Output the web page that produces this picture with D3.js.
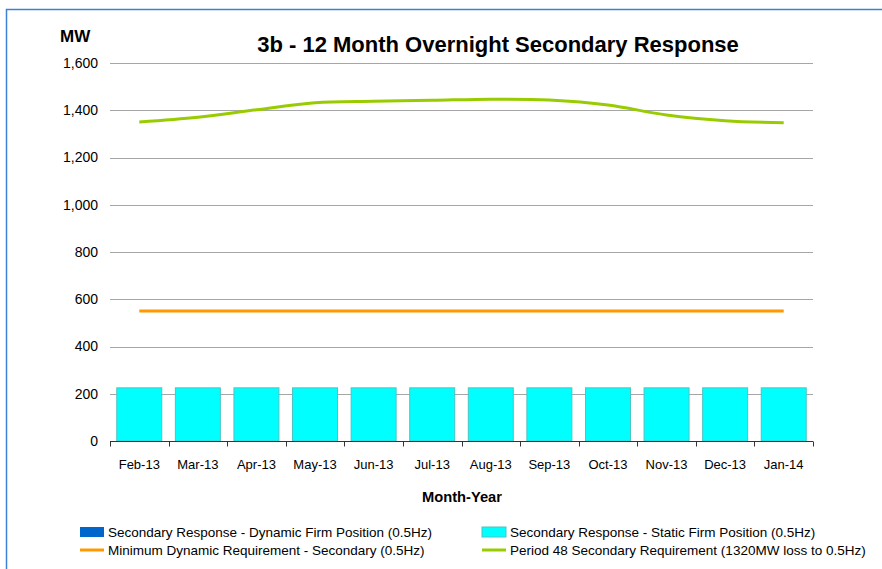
<!DOCTYPE html>
<html>
<head>
<meta charset="utf-8">
<script src="https://cdn.jsdelivr.net/npm/d3@7"></script>
<style>
  body { margin: 0; background: #fff; }
  svg { display: block; font-family: "Liberation Sans", Arial, sans-serif; }
  .axis text { font-size: 13px; fill: #000; }
  .axis--y text { font-size: 14px; }
  .grid line { stroke: #a6a6a6; }
</style>
</head>
<body>
<svg id="chart" width="882" height="569"></svg>
<script>
// month categories
var months = ["Feb-13", "Mar-13", "Apr-13", "May-13", "Jun-13", "Jul-13",
              "Aug-13", "Sep-13", "Oct-13", "Nov-13", "Dec-13", "Jan-14"];
// series values (MW)
var dynamicFirm = [0, 0, 0, 0, 0, 0, 0, 0, 0, 0, 0, 0];
var staticFirm = [225, 225, 225, 225, 225, 225, 225, 225, 225, 225, 225, 225];
var minDynamic = [550, 550, 550, 550, 550, 550, 550, 550, 550, 550, 550, 550];
var period48 = [1350, 1370, 1402, 1432, 1438, 1442, 1447, 1443, 1422, 1380, 1356, 1347];
var yTicks = [0, 200, 400, 600, 800, 1000, 1200, 1400, 1600];

var svg = d3.select('#chart');
var margin = {top: 63, left: 110, right: 69, bottom: 128};
var w = 882 - margin.left - margin.right;
var h = 569 - margin.top - margin.bottom;

var x = d3.scaleBand().domain(months).range([0, w]).paddingInner(0.215).paddingOuter(0.107);
var y = d3.scaleLinear().domain([0, 1600]).range([h, 0]);
var band = d3.scaleBand().domain(months).range([0, w]);

// outer frame
svg.append("path")
    .attr("d", "M6.5,575 L6.5,9.5 L882,9.5")
    .attr("fill", "none")
    .attr("stroke", "#3b82d6")
    .attr("stroke-width", 1.5);

var g = svg.append("g")
    .attr("transform", "translate(" + margin.left + "," + margin.top + ")");

// gridlines
g.append("g")
    .attr("class", "grid")
    .selectAll("line")
    .data(yTicks.slice(1))
    .enter().append("line")
    .attr("x1", 0).attr("x2", w)
    .attr("y1", function(d) { return Math.round(y(d)) + 0.5; })
    .attr("y2", function(d) { return Math.round(y(d)) + 0.5; });

// y axis labels (no line)
var yAxis = g.append("g")
    .attr("class", "axis axis--y")
    .call(d3.axisLeft(y).tickValues(yTicks).tickFormat(d3.format(",")).tickSize(0).tickPadding(12));
yAxis.select(".domain").remove();

// bars
g.selectAll(".bar-static")
    .data(staticFirm)
    .enter().append("rect")
    .attr("class", "bar-static")
    .attr("x", function(d, i) { return x(months[i]) + 0.5; })
    .attr("y", function(d) { return y(d); })
    .attr("width", x.bandwidth() - 1)
    .attr("height", function(d) { return h - y(d); })
    .attr("fill", "#00ffff")
    .attr("stroke", "#4cc4c4")
    .attr("stroke-width", 1);

g.selectAll(".bar-dynamic")
    .data(dynamicFirm)
    .enter().append("rect")
    .attr("class", "bar-dynamic")
    .attr("x", function(d, i) { return x(months[i]); })
    .attr("y", function(d, i) { return y(staticFirm[i] + d); })
    .attr("width", x.bandwidth())
    .attr("height", function(d) { return h - y(d); })
    .attr("fill", "#0066cc");

// x axis
var xAxis = g.append("g")
    .attr("class", "axis axis--x")
    .attr("transform", "translate(0," + (h + 0.5) + ")");
xAxis.append("line")
    .attr("x1", 0).attr("x2", w)
    .attr("stroke", "#333");
xAxis.selectAll(".tick-mark")
    .data(months.concat(["end"]))
    .enter().append("line")
    .attr("x1", function(d, i) { return Math.round(i < months.length ? band(d) : w) + 0.5; })
    .attr("x2", function(d, i) { return Math.round(i < months.length ? band(d) : w) + 0.5; })
    .attr("y1", 0).attr("y2", 5)
    .attr("stroke", "#333");
xAxis.selectAll(".lbl")
    .data(months)
    .enter().append("text")
    .attr("x", function(d) { return band(d) + band.bandwidth() / 2; })
    .attr("y", 27)
    .attr("text-anchor", "middle")
    .text(function(d) { return d; });

// lines
var line = d3.line()
    .x(function(d, i) { return band(months[i]) + band.bandwidth() / 2; })
    .y(function(d) { return y(d); });

g.append("path")
    .datum(minDynamic)
    .attr("fill", "none")
    .attr("stroke", "#ff9900")
    .attr("stroke-width", 3)
    .attr("d", line);

g.append("path")
    .datum(period48)
    .attr("fill", "none")
    .attr("stroke", "#99cc00")
    .attr("stroke-width", 3)
    .attr("d", line.curve(d3.curveCatmullRom.alpha(0.5)));

// titles
svg.append("text")
    .attr("x", 498).attr("y", 52)
    .attr("text-anchor", "middle")
    .attr("font-size", "22px").attr("font-weight", "bold")
    .text("3b - 12 Month Overnight Secondary Response");

svg.append("text")
    .attr("x", 60).attr("y", 42)
    .attr("font-size", "17px").attr("font-weight", "bold")
    .text("MW");

svg.append("text")
    .attr("x", 462).attr("y", 502)
    .attr("text-anchor", "middle")
    .attr("font-size", "14.7px").attr("font-weight", "bold")
    .text("Month-Year");

// legend
var legend = [
  {name: "Secondary Response - Dynamic Firm Position (0.5Hz)", type: "rect", color: "#0066cc", x: 80, y: 532},
  {name: "Secondary Response - Static Firm Position (0.5Hz)", type: "rect", color: "#00ffff", x: 482, y: 532},
  {name: "Minimum Dynamic Requirement - Secondary (0.5Hz)", type: "line", color: "#ff9900", x: 80, y: 550},
  {name: "Period 48 Secondary Requirement (1320MW loss to 0.5Hz)", type: "line", color: "#99cc00", x: 482, y: 550}
];
var li = svg.selectAll(".legend")
    .data(legend)
    .enter().append("g")
    .attr("class", "legend")
    .attr("transform", function(d) { return "translate(" + d.x + "," + d.y + ")"; });
li.filter(function(d) { return d.type === "rect"; })
    .append("rect")
    .attr("x", 0).attr("y", -5).attr("width", 24).attr("height", 10)
    .attr("fill", function(d) { return d.color; })
    .attr("stroke", function(d) { return d.color === "#00ffff" ? "#4cc4c4" : "none"; });
li.filter(function(d) { return d.type === "line"; })
    .append("line")
    .attr("x1", 0).attr("x2", 24).attr("y1", 0).attr("y2", 0)
    .attr("stroke", function(d) { return d.color; })
    .attr("stroke-width", 3);
li.append("text")
    .attr("x", 28).attr("y", 4.5)
    .attr("font-size", "13.5px")
    .text(function(d) { return d.name; });
</script>
</body>
</html>
